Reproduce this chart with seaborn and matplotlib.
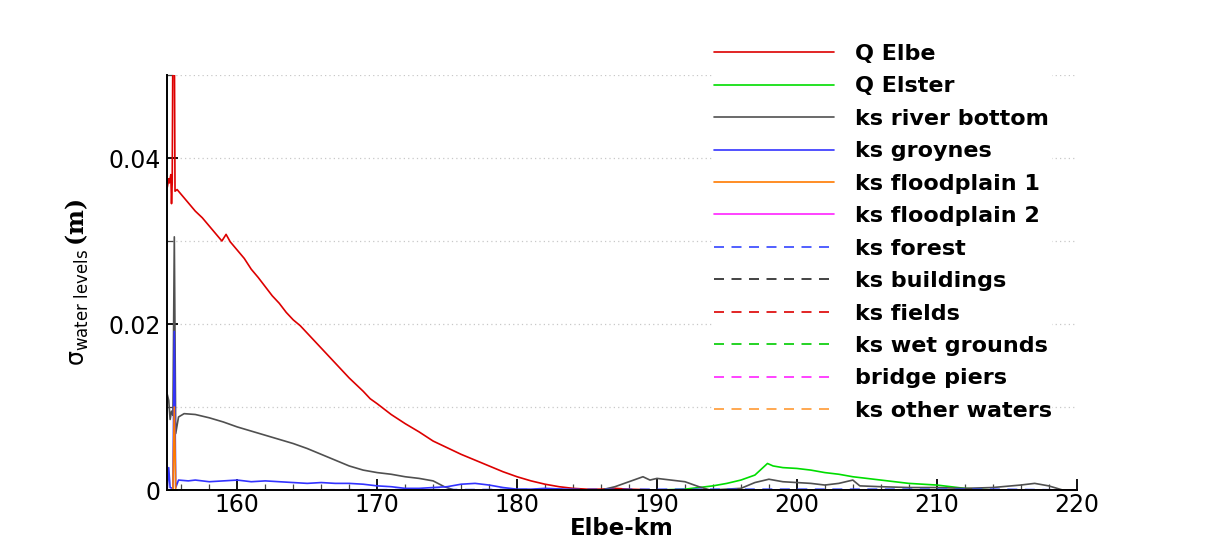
import numpy as np
import pandas as pd
import matplotlib
matplotlib.use("Agg")
import matplotlib.pyplot as plt
from matplotlib.ticker import MultipleLocator
import seaborn as sns

# ---- data: standard deviation of water levels along the Elbe ----
labels = ["Q Elbe", "Q Elster", "ks river bottom", "ks groynes",
          "ks floodplain 1", "ks floodplain 2", "ks forest", "ks buildings",
          "ks fields", "ks wet grounds", "bridge piers", "ks other waters"]

km_q_elbe = [155.0, 155.1, 155.15, 155.25, 155.3, 155.35, 155.4, 155.5, 155.55,
             155.7, 156.0, 156.5, 157.0, 157.5, 158.0, 158.5, 158.9, 159.2,
             159.5, 160.0, 160.5, 161.0, 161.5, 162.0, 162.5, 163.0, 163.5,
             164.0, 164.5, 165.0, 165.5, 166.0, 166.5, 167.0, 167.5, 168.0,
             168.5, 169.0, 169.5, 170.0, 171.0, 172.0, 173.0, 174.0, 175.0,
             176.0, 177.0, 178.0, 179.0, 180.0, 181.0, 182.0, 183.0, 184.0,
             185.0, 186.0, 187.0, 188.0, 190.0, 220.0]
sd_q_elbe = [0.0365, 0.0375, 0.0370, 0.0380, 0.0345, 0.0370, 0.0550, 0.0550, 0.0360,
             0.0362, 0.0356, 0.0346, 0.0336, 0.0328, 0.0318, 0.0308, 0.0300, 0.0308,
             0.0299, 0.0289, 0.0279, 0.0266, 0.0256, 0.0245, 0.0234, 0.0225, 0.0214,
             0.0205, 0.0198, 0.0189, 0.0180, 0.0171, 0.0162, 0.0153, 0.0144, 0.0135,
             0.0127, 0.0119, 0.0110, 0.0104, 0.0091, 0.0080, 0.0070, 0.0059, 0.0051,
             0.0043, 0.0036, 0.0029, 0.0022, 0.0016, 0.0011, 0.0007, 0.0004, 0.0002,
             0.0001, 0.0001, 0.0002, 0.0001, 0.0000, 0.0000]

km_q_elster = [155.0, 190.0, 192.0, 193.0, 194.0, 195.0, 196.0, 197.0, 197.9, 198.3,
               199.0, 200.0, 201.0, 202.0, 203.0, 204.0, 205.0, 206.0, 207.0, 208.0,
               209.0, 210.0, 211.0, 212.0, 213.0, 214.0, 220.0]
sd_q_elster = [0.0, 0.0, 0.0001, 0.0003, 0.0005, 0.0008, 0.0012, 0.0018, 0.0032, 0.0029,
               0.0027, 0.0026, 0.0024, 0.0021, 0.0019, 0.0016, 0.0014, 0.0012, 0.0010, 0.0008,
               0.0007, 0.0006, 0.0004, 0.0002, 0.0001, 0.0000, 0.0000]

km_river_bottom = [155.0, 155.1, 155.2, 155.3, 155.4, 155.5, 155.6, 155.8, 156.2, 157.0,
                   158.0, 159.0, 160.0, 161.0, 162.0, 163.0, 164.0, 165.0, 166.0, 167.0,
                   168.0, 169.0, 170.0, 171.0, 172.0, 173.0, 174.0, 174.8, 175.5, 186.0,
                   187.0, 188.0, 189.0, 189.5, 190.0, 191.0, 192.0, 193.0, 193.8, 196.0,
                   197.0, 198.0, 199.0, 200.0, 201.0, 202.0, 203.0, 204.0, 204.5, 206.0,
                   208.0, 210.0, 212.0, 214.0, 216.0, 217.0, 218.0, 219.0]
sd_river_bottom = [0.0115, 0.0108, 0.0085, 0.0095, 0.0090, 0.0305, 0.0068, 0.0088, 0.0092, 0.0091,
                   0.0087, 0.0082, 0.0076, 0.0071, 0.0066, 0.0061, 0.0056, 0.0050, 0.0043, 0.0036,
                   0.0029, 0.0024, 0.0021, 0.0019, 0.0016, 0.0014, 0.0011, 0.0004, 0.0000, 0.0000,
                   0.0004, 0.0010, 0.0016, 0.0012, 0.0014, 0.0012, 0.0010, 0.0004, 0.0000, 0.0002,
                   0.0009, 0.0013, 0.0010, 0.0009, 0.0008, 0.0006, 0.0008, 0.0012, 0.0005, 0.0004,
                   0.0003, 0.0003, 0.0002, 0.0003, 0.0006, 0.0008, 0.0005, 0.0000]

km_groynes = [155.0, 155.1, 155.2, 155.4, 155.5, 155.6, 155.8, 156.5, 157.0, 158.0,
              159.0, 160.0, 161.0, 162.0, 163.0, 164.0, 165.0, 166.0, 167.0, 168.0,
              169.0, 170.0, 171.0, 172.0, 173.0, 174.0, 175.0, 176.0, 177.0, 178.0,
              179.0, 180.0, 181.0, 182.0, 185.0, 220.0]
sd_groynes = [0.0002, 0.0027, 0.0003, 0.0002, 0.0191, 0.0003, 0.0012, 0.0011, 0.0012, 0.0010,
              0.0011, 0.0012, 0.0010, 0.0011, 0.0010, 0.0009, 0.0008, 0.0009, 0.0008, 0.0008,
              0.0007, 0.0005, 0.0004, 0.0002, 0.0002, 0.0003, 0.0004, 0.0007, 0.0008, 0.0006,
              0.0003, 0.0001, 0.0001, 0.0002, 0.0000, 0.0000]

km_floodplain1 = [155.0, 155.4, 155.5, 155.6, 220.0]
sd_floodplain1 = [0.0, 0.0, 0.0100, 0.0, 0.0]

km_floodplain2 = [155.0, 220.0]
sd_floodplain2 = [0.0, 0.0]

km_forest = [155.0, 194.0, 200.0, 206.0, 214.0, 220.0]
sd_forest = [0.0, 0.0001, 0.0001, 0.0001, 0.0001, 0.0]

km_flat = [155.0, 220.0]
sd_buildings = [0.0, 0.0]
sd_fields = [0.0, 0.0]
sd_wet_grounds = [0.0, 0.0]
sd_bridge_piers = [0.0, 0.0]
sd_other_waters = [0.0, 0.0]

series = [
    (km_q_elbe, sd_q_elbe), (km_q_elster, sd_q_elster),
    (km_river_bottom, sd_river_bottom), (km_groynes, sd_groynes),
    (km_floodplain1, sd_floodplain1), (km_floodplain2, sd_floodplain2),
    (km_forest, sd_forest), (km_flat, sd_buildings), (km_flat, sd_fields),
    (km_flat, sd_wet_grounds), (km_flat, sd_bridge_piers), (km_flat, sd_other_waters),
]

colors = ["#dd0000", "#00dd00", "#505050", "#3333ff", "#ff7a00", "#ff22ff",
          "#3344ff", "#222222", "#dd0000", "#00cc00", "#ff22ff", "#ff9933"]
dashed = [False] * 6 + [True] * 6

# ---- styling ----
sns.set_theme(style="white")
plt.rcParams["font.family"] = ["DejaVu Sans"]
plt.rcParams["text.color"] = "black"
plt.rcParams["axes.labelcolor"] = "black"
plt.rcParams["xtick.color"] = "black"
plt.rcParams["ytick.color"] = "black"
plt.rcParams["mathtext.fontset"] = "custom"
plt.rcParams["mathtext.rm"] = "DejaVu Sans"
plt.rcParams["mathtext.sf"] = "DejaVu Sans"
plt.rcParams["mathtext.it"] = "DejaVu Sans:italic"
plt.rcParams["mathtext.bf"] = "DejaVu Serif:bold"

fig = plt.figure(figsize=(12.16, 5.42), dpi=100)
ax = fig.add_axes([0.1376, 0.0959, 0.8854 - 0.1376, 0.8616 - 0.0959])

for (km, sd), lab, col, dsh in zip(series, labels, colors, dashed):
    df = pd.DataFrame({"km": km, "sd": sd})
    sns.lineplot(data=df, x="km", y="sd", ax=ax, color=col, lw=1.2,
                 label=lab, linestyle=(0, (6, 4.5)) if dsh else "-",
                 estimator=None, sort=False)

ax.set_xlim(155, 220)
ax.set_ylim(0, 0.05)
ax.xaxis.set_major_locator(MultipleLocator(10))
ax.xaxis.set_minor_locator(MultipleLocator(2))
ax.yaxis.set_major_locator(MultipleLocator(0.02))
ax.yaxis.set_minor_locator(MultipleLocator(0.01))
ax.yaxis.set_major_formatter(plt.FuncFormatter(lambda v, p: "0" if v == 0 else f"{v:g}"))

ax.grid(False)
for yv in [0.01, 0.02, 0.03, 0.04, 0.05]:
    ax.axhline(yv, color="#c8c8c8", lw=0.9, ls=(0, (1, 2.5)), zorder=0)

for side in ["top", "right"]:
    ax.spines[side].set_visible(False)
for side in ["left", "bottom"]:
    ax.spines[side].set_color("black")
    ax.spines[side].set_linewidth(1.4)

ax.tick_params(which="major", direction="in", length=8, width=1.3, colors="black",
               labelsize=17, pad=2)
ax.tick_params(which="minor", direction="in", length=4, width=0.9, colors="#444444")
ax.tick_params(axis="x", which="both", bottom=True)
ax.tick_params(axis="y", which="both", left=True)
ax.tick_params(axis="y", which="major", pad=5)

ax.set_xlabel("Elbe-km", fontsize=16.5, fontweight="bold", labelpad=0)
ax.set_ylabel(r"$\mathrm{\sigma}_{\mathrm{water\ levels}}\,\mathbf{(m)}$", fontsize=17,
              labelpad=12)

leg = ax.legend(loc="upper left", bbox_to_anchor=(714.0 / 1216, 1 - 44.0 / 542),
                bbox_transform=fig.transFigure, frameon=True, fancybox=False,
                borderpad=0.0, borderaxespad=0.0, handlelength=5.4, handletextpad=0.95,
                labelspacing=0.56, prop={"weight": "bold", "size": 16})
leg.get_frame().set_facecolor("white")
leg.get_frame().set_edgecolor("none")
leg.get_frame().set_alpha(1.0)
for t in leg.get_texts():
    t.set_color("black")

fig.savefig("out.png", dpi=100)
